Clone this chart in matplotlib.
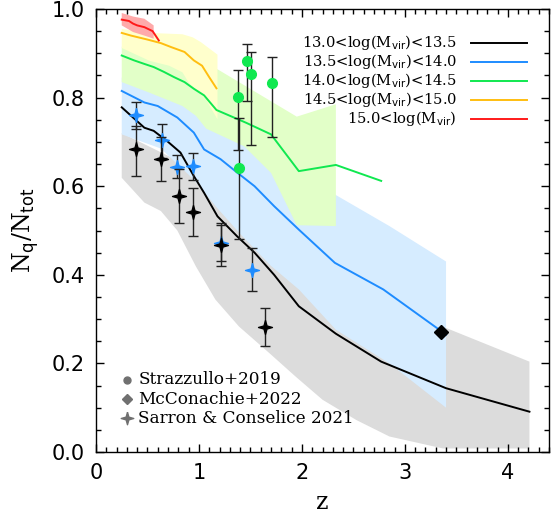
import matplotlib
matplotlib.use('Agg')
import matplotlib.pyplot as plt
import numpy as np
from matplotlib.ticker import MultipleLocator

# ---------------- model median lines ----------------
z_m1 = [0.25, 0.47, 0.56, 0.69, 0.82, 0.95, 1.05, 1.18, 1.37, 1.54, 1.73, 1.97, 2.33, 2.77, 3.40, 4.21]
f_m1 = [0.778, 0.732, 0.725, 0.702, 0.676, 0.623, 0.585, 0.532, 0.487, 0.450, 0.400, 0.329, 0.267, 0.204, 0.144, 0.091]

z_m2 = [0.25, 0.47, 0.60, 0.79, 0.95, 1.05, 1.21, 1.37, 1.54, 1.73, 1.97, 2.32, 2.79, 3.40]
f_m2 = [0.815, 0.789, 0.781, 0.755, 0.721, 0.683, 0.661, 0.631, 0.600, 0.555, 0.502, 0.427, 0.367, 0.265]

z_m3 = [0.25, 0.37, 0.47, 0.56, 0.66, 0.76, 0.86, 0.95, 1.05, 1.17, 1.46, 1.70, 1.97, 2.33, 2.77]
f_m3 = [0.895, 0.884, 0.876, 0.869, 0.858, 0.846, 0.835, 0.820, 0.805, 0.772, 0.743, 0.717, 0.634, 0.648, 0.612]

z_m4 = [0.25, 0.34, 0.50, 0.63, 0.73, 0.86, 0.95, 1.03, 1.10, 1.17]
f_m4 = [0.946, 0.940, 0.931, 0.923, 0.914, 0.903, 0.884, 0.872, 0.846, 0.821]

z_m5 = [0.25, 0.32, 0.36, 0.40, 0.47, 0.55, 0.61]
f_m5 = [0.976, 0.973, 0.967, 0.963, 0.959, 0.950, 0.929]

# ---------------- scatter bands (upper / lower edges) ----------------
b1_zhi = [0.25, 0.95, 1.97, 2.33, 2.85, 3.40, 4.21]
b1_hi = [0.720, 0.640, 0.400, 0.330, 0.310, 0.280, 0.204]
b1_zlo = [0.25, 0.47, 0.63, 0.79, 0.97, 1.16, 1.39, 1.68, 1.94, 2.20, 2.53, 2.85, 3.37, 4.21]
b1_lo = [0.619, 0.563, 0.544, 0.500, 0.419, 0.344, 0.283, 0.224, 0.170, 0.118, 0.072, 0.035, 0.008, 0.008]

b2_zhi = [0.25, 0.95, 1.41, 1.97, 2.33, 2.85, 3.40]
b2_hi = [0.845, 0.800, 0.720, 0.620, 0.580, 0.510, 0.430]
b2_zlo = [0.25, 0.63, 0.95, 1.18, 1.41, 1.70, 1.97, 2.33, 2.85, 3.40]
b2_lo = [0.717, 0.685, 0.615, 0.550, 0.490, 0.420, 0.367, 0.276, 0.200, 0.100]

b3_zhi = [0.25, 0.60, 1.18, 1.95, 2.33]
b3_hi = [0.915, 0.905, 0.864, 0.757, 0.785]
b3_zlo = [0.25, 0.52, 0.84, 0.97, 1.07, 1.44, 1.70, 1.95, 2.33]
b3_lo = [0.835, 0.811, 0.781, 0.759, 0.730, 0.690, 0.630, 0.512, 0.510]

b4_zhi = [0.25, 0.52, 0.84, 0.94, 1.02, 1.18]
b4_hi = [0.955, 0.946, 0.943, 0.936, 0.925, 0.897]
b4_zlo = [0.25, 0.52, 0.71, 0.84, 0.90, 1.07, 1.18]
b4_lo = [0.912, 0.883, 0.872, 0.857, 0.834, 0.795, 0.751]

b5_zhi = [0.25, 0.36, 0.47, 0.56]
b5_hi = [0.991, 0.983, 0.978, 0.963]
b5_zlo = [0.25, 0.36, 0.47, 0.56]
b5_lo = [0.963, 0.948, 0.940, 0.933]

# ---------------- observations ----------------
# Strazzullo+2019
s_z = [1.375, 1.39, 1.47, 1.51, 1.71]
s_f = [0.802, 0.642, 0.882, 0.853, 0.833]
s_up = [0.061, 0.111, 0.040, 0.049, 0.059]
s_dn = [0.120, 0.161, 0.090, 0.161, 0.121]

# McConachie+2022
m_z = [3.35]
m_f = [0.271]

# Sarron & Conselice 2021 (black)
sc_z = [0.39, 0.635, 0.81, 0.945, 1.21, 1.64]
sc_f = [0.683, 0.661, 0.578, 0.541, 0.468, 0.282]
sc_up = [0.053, 0.050, 0.060, 0.056, 0.049, 0.043]
sc_dn = [0.059, 0.050, 0.061, 0.054, 0.049, 0.042]

# Sarron & Conselice 2021 (blue)
sb_z = [0.385, 0.645, 0.785, 0.945, 1.21, 1.52]
sb_f = [0.760, 0.704, 0.644, 0.645, 0.472, 0.410]
sb_up = [0.030, 0.036, 0.026, 0.031, 0.040, 0.051]
sb_dn = [0.031, 0.040, 0.026, 0.030, 0.040, 0.047]

labels = ['13.0<log(M$_{\\rm vir}$)<13.5', '13.5<log(M$_{\\rm vir}$)<14.0',
          '14.0<log(M$_{\\rm vir}$)<14.5', '14.5<log(M$_{\\rm vir}$)<15.0',
          '15.0<log(M$_{\\rm vir}$)']
line_cols = ['#000000', '#1e8cff', '#10e850', '#ffbe10', '#ff1a1a']
band_cols = ['#dcdcdc', '#d6ecff', '#e2ffc8', '#ffffcc', '#ffaaaa']

fig = plt.figure(figsize=(5.58, 5.20), dpi=100)
ax = fig.add_axes([96/558, 1-452/520, 453/558, 443/520])

bands = [(b1_zhi, b1_hi, b1_zlo, b1_lo), (b2_zhi, b2_hi, b2_zlo, b2_lo),
         (b3_zhi, b3_hi, b3_zlo, b3_lo), (b4_zhi, b4_hi, b4_zlo, b4_lo),
         (b5_zhi, b5_hi, b5_zlo, b5_lo)]
for (zh, h, zl, l), c in zip(bands, band_cols):
    xs = np.concatenate([zh, zl[::-1]])
    ys = np.concatenate([h, l[::-1]])
    ax.fill(xs, ys, color=c, lw=0, zorder=1)

lines = [(z_m1, f_m1), (z_m2, f_m2), (z_m3, f_m3), (z_m4, f_m4), (z_m5, f_m5)]
for (zz, ff), c in zip(lines, line_cols):
    ax.plot(zz, ff, color=c, lw=1.4, zorder=3)

star = [(0, 1), (0.22, 0.22), (1, 0), (0.22, -0.22), (0, -1), (-0.22, -0.22),
        (-1, 0), (-0.22, 0.22), (0, 1)]

ekw = dict(ecolor='#222222', elinewidth=1.0, capsize=3.5, capthick=1.0, ls='none')
ax.errorbar(s_z, s_f, yerr=[s_dn, s_up], marker='o', ms=7, mfc='#10e850',
            mec='#10e850', zorder=5, **ekw)
ax.errorbar(sb_z, sb_f, yerr=[sb_dn, sb_up], marker=star, ms=10, mfc='#1e8cff',
            mec='#1e8cff', zorder=5, **ekw)
ax.errorbar(sc_z, sc_f, yerr=[sc_dn, sc_up], marker=star, ms=10, mfc='black',
            mec='black', zorder=6, **ekw)
ax.plot(m_z, m_f, ls='none', marker='D', ms=7, color='black', zorder=6)

ax.set_xlim(0, 4.4)
ax.set_ylim(0, 1.0)
ax.xaxis.set_major_locator(MultipleLocator(1))
ax.xaxis.set_minor_locator(MultipleLocator(0.1))
ax.yaxis.set_major_locator(MultipleLocator(0.2))
ax.yaxis.set_minor_locator(MultipleLocator(0.05))
ax.tick_params(which='both', direction='in', top=True, right=True, width=1.0)
ax.tick_params(which='major', length=6, labelsize=15, pad=8)
ax.tick_params(which='minor', length=3.5)
ax.yaxis.set_major_formatter(matplotlib.ticker.FormatStrFormatter('%.1f'))
for sp in ax.spines.values():
    sp.set_linewidth(1.0)

ax.set_xlabel('z', fontsize=17, family='DejaVu Serif', labelpad=6)
ax.set_ylabel('N$_{\\rm q}$/N$_{\\rm tot}$', fontsize=17, family='DejaVu Serif', labelpad=8)

# model legend (upper right)
rows = [0.924, 0.881, 0.838, 0.795, 0.752]
for lab, c, yy in zip(labels, line_cols, rows):
    ax.text(0.797, yy, lab, transform=ax.transAxes, ha='right', va='center',
            fontsize=10.6, family='DejaVu Serif', zorder=7)
    ax.plot([0.828, 0.951], [yy, yy], transform=ax.transAxes, color=c, lw=1.4, zorder=7)

# observation legend (lower left)
obs_labels = ['Strazzullo+2019', 'McConachie+2022', 'Sarron & Conselice 2021']
obs_markers = ['o', 'D', star]
obs_sizes = [5, 5, 9]
orows = [0.163, 0.119, 0.076]
for lab, mk, sz, yy in zip(obs_labels, obs_markers, obs_sizes, orows):
    ax.plot([0.068], [yy], transform=ax.transAxes, marker=mk, ms=sz, color='#707070',
            ls='none', zorder=7)
    ax.text(0.093, yy, lab, transform=ax.transAxes, ha='left', va='center',
            fontsize=12.2, family='DejaVu Serif', zorder=7)

fig.savefig('out.png', dpi=100)
